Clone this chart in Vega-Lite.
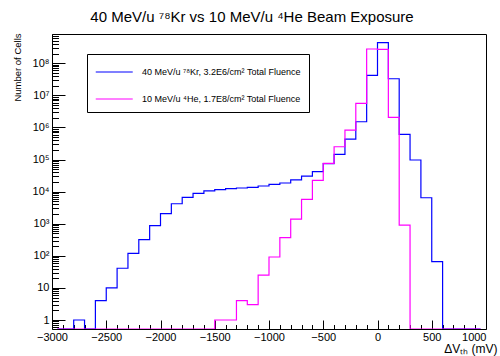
{
  "$schema": "https://vega.github.io/schema/vega-lite/v6.json",
  "width": 434,
  "height": 295,
  "autosize": "none",
  "padding": {"left": 52, "top": 34, "right": 14, "bottom": 27},
  "background": "white",
  "config": {
    "view": {"stroke": "black", "strokeWidth": 1},
    "font": "Liberation Sans",
    "axis": {"labelFont": "Liberation Sans", "titleFont": "Liberation Sans", "labelColor": "black", "titleColor": "black", "tickColor": "black", "grid": false, "domain": false, "titleFontWeight": "normal"}
  },
  "title": {
    "text": "40 MeV/u ⁷⁸Kr vs 10 MeV/u ⁴He Beam Exposure",
    "font": "Liberation Sans",
    "fontSize": 15,
    "fontWeight": "normal",
    "color": "black",
    "anchor": "middle",
    "baseline": "alphabetic",
    "dx": -17,
    "dy": 11,
    "offset": 7
  },
  "data": {
    "values": [
      {"mV": -2950, "cells": 0, "beam": "Kr"},
      {"mV": -2850, "cells": 0, "beam": "Kr"},
      {"mV": -2750, "cells": 1, "beam": "Kr"},
      {"mV": -2650, "cells": 0, "beam": "Kr"},
      {"mV": -2550, "cells": 4, "beam": "Kr"},
      {"mV": -2450, "cells": 10, "beam": "Kr"},
      {"mV": -2350, "cells": 41, "beam": "Kr"},
      {"mV": -2250, "cells": 120, "beam": "Kr"},
      {"mV": -2150, "cells": 318, "beam": "Kr"},
      {"mV": -2050, "cells": 869, "beam": "Kr"},
      {"mV": -1950, "cells": 2080, "beam": "Kr"},
      {"mV": -1850, "cells": 4210, "beam": "Kr"},
      {"mV": -1750, "cells": 6660, "beam": "Kr"},
      {"mV": -1650, "cells": 8880, "beam": "Kr"},
      {"mV": -1550, "cells": 10600, "beam": "Kr"},
      {"mV": -1450, "cells": 11500, "beam": "Kr"},
      {"mV": -1350, "cells": 12400, "beam": "Kr"},
      {"mV": -1250, "cells": 13000, "beam": "Kr"},
      {"mV": -1150, "cells": 13700, "beam": "Kr"},
      {"mV": -1050, "cells": 15000, "beam": "Kr"},
      {"mV": -950, "cells": 16900, "beam": "Kr"},
      {"mV": -850, "cells": 18600, "beam": "Kr"},
      {"mV": -750, "cells": 23400, "beam": "Kr"},
      {"mV": -650, "cells": 30300, "beam": "Kr"},
      {"mV": -550, "cells": 42400, "beam": "Kr"},
      {"mV": -450, "cells": 75300, "beam": "Kr"},
      {"mV": -350, "cells": 146000, "beam": "Kr"},
      {"mV": -250, "cells": 437000, "beam": "Kr"},
      {"mV": -150, "cells": 1510000, "beam": "Kr"},
      {"mV": -50, "cells": 42000000, "beam": "Kr"},
      {"mV": 50, "cells": 444000000, "beam": "Kr"},
      {"mV": 150, "cells": 33000000, "beam": "Kr"},
      {"mV": 250, "cells": 610000, "beam": "Kr"},
      {"mV": 350, "cells": 96900, "beam": "Kr"},
      {"mV": 450, "cells": 6470, "beam": "Kr"},
      {"mV": 550, "cells": 66, "beam": "Kr"},
      {"mV": 650, "cells": 0, "beam": "Kr"},
      {"mV": 750, "cells": 0, "beam": "Kr"},
      {"mV": 850, "cells": 0, "beam": "Kr"},
      {"mV": 950, "cells": 0, "beam": "Kr"},
      {"mV": -2950, "cells": 0, "beam": "He"},
      {"mV": -2850, "cells": 0, "beam": "He"},
      {"mV": -2750, "cells": 0, "beam": "He"},
      {"mV": -2650, "cells": 0, "beam": "He"},
      {"mV": -2550, "cells": 0, "beam": "He"},
      {"mV": -2450, "cells": 0, "beam": "He"},
      {"mV": -2350, "cells": 0, "beam": "He"},
      {"mV": -2250, "cells": 0, "beam": "He"},
      {"mV": -2150, "cells": 0, "beam": "He"},
      {"mV": -2050, "cells": 0, "beam": "He"},
      {"mV": -1950, "cells": 0, "beam": "He"},
      {"mV": -1850, "cells": 0, "beam": "He"},
      {"mV": -1750, "cells": 0, "beam": "He"},
      {"mV": -1650, "cells": 0, "beam": "He"},
      {"mV": -1550, "cells": 0, "beam": "He"},
      {"mV": -1450, "cells": 1, "beam": "He"},
      {"mV": -1350, "cells": 1, "beam": "He"},
      {"mV": -1250, "cells": 4, "beam": "He"},
      {"mV": -1150, "cells": 3, "beam": "He"},
      {"mV": -1050, "cells": 25, "beam": "He"},
      {"mV": -950, "cells": 92, "beam": "He"},
      {"mV": -850, "cells": 372, "beam": "He"},
      {"mV": -750, "cells": 1400, "beam": "He"},
      {"mV": -650, "cells": 5770, "beam": "He"},
      {"mV": -550, "cells": 22600, "beam": "He"},
      {"mV": -450, "cells": 76400, "beam": "He"},
      {"mV": -350, "cells": 251000, "beam": "He"},
      {"mV": -250, "cells": 833000, "beam": "He"},
      {"mV": -150, "cells": 5660000, "beam": "He"},
      {"mV": -50, "cells": 279000000, "beam": "He"},
      {"mV": 50, "cells": 273000000, "beam": "He"},
      {"mV": 150, "cells": 2070000, "beam": "He"},
      {"mV": 250, "cells": 913, "beam": "He"},
      {"mV": 350, "cells": 0, "beam": "He"},
      {"mV": 450, "cells": 0, "beam": "He"},
      {"mV": 550, "cells": 0, "beam": "He"},
      {"mV": 650, "cells": 0, "beam": "He"},
      {"mV": 750, "cells": 0, "beam": "He"},
      {"mV": 850, "cells": 0, "beam": "He"},
      {"mV": 950, "cells": 0, "beam": "He"}
    ]
  },
  "layer": [
    {
      "mark": {"type": "line", "interpolate": "step", "strokeWidth": 1.2, "clip": true, "invalid": "show"},
      "encoding": {
        "x": {
          "field": "mV", "type": "quantitative",
          "scale": {"domain": [-3000, 1000], "nice": false, "zero": false},
          "axis": {
            "orient": "bottom",
            "values": [-3000, -2500, -2000, -1500, -1000, -500, 0, 500, 1000],
            "format": "d",
            "tickSize": -9,
            "tickWidth": 1,
            "labelFontSize": 11,
            "labelPadding": 11,
            "labelFlush": false,
            "labelOverlap": false,
            "labelAlign": {"expr": "datum.value == 1000 ? 'right' : 'center'"},
            "title": "ΔVₜₕ (mV)",
            "titleFontSize": 12,
            "titleAnchor": "end",
            "titleAlign": "right",
            "titleBaseline": "alphabetic",
            "titleX": 445,
            "titleY": 23
          }
        },
        "y": {
          "field": "cells", "type": "quantitative",
          "scale": {"type": "log", "domain": [0.525, 820000000], "nice": false, "clamp": true},
          "axis": {
            "orient": "left",
            "values": [1, 10, 100, 1000, 10000, 100000, 1000000, 10000000, 100000000],
            "labelExpr": "['1','10','10²','10³','10⁴','10⁵','10⁶','10⁷','10⁸'][round(log(datum.value)/LN10)]",
            "tickSize": -13,
            "tickWidth": 1,
            "labelFontSize": 11,
            "labelPadding": 16,
            "labelOverlap": false,
            "title": "Number of Cells",
            "titleFontSize": 9.5,
            "titleAngle": 270,
            "titleAlign": "right",
            "titleBaseline": "middle",
            "titleX": -35,
            "titleY": -1
          }
        },
        "color": {
          "field": "beam", "type": "nominal",
          "scale": {"domain": ["Kr", "He"], "range": ["#0000ff", "#ff00ff"]},
          "legend": {
            "orient": "none",
            "legendX": 35,
            "legendY": 20,
            "title": null,
            "direction": "vertical",
            "strokeColor": "black",
            "fillColor": "white",
            "padding": 8,
            "symbolType": "M-1,0H3",
            "symbolSize": 342,
            "symbolStrokeWidth": 1.2,
            "labelFontSize": 9,
            "labelFont": "Liberation Sans",
            "labelColor": "black",
            "labelOffset": 27,
            "labelLimit": 0,
            "rowPadding": 12,
            "labelExpr": "datum.value == 'Kr' ? '40 MeV/u ⁷⁸Kr, 3.2E6/cm² Total Fluence' : '10 MeV/u ⁴He, 1.7E8/cm² Total Fluence'"
          }
        }
      }
    },
    {
      "mark": {"type": "line", "opacity": 0, "invalid": "show"},
      "encoding": {
        "x": {
          "field": "mV", "type": "quantitative",
          "axis": {
            "orient": "bottom",
            "values": [-2900, -2800, -2700, -2600, -2400, -2300, -2200, -2100, -1900, -1800, -1700, -1600, -1400, -1300, -1200, -1100, -900, -800, -700, -600, -400, -300, -200, -100, 100, 200, 300, 400, 600, 700, 800, 900],
            "tickSize": -4.5,
            "tickWidth": 1,
            "labels": false,
            "title": null
          }
        },
        "y": {
          "field": "cells", "type": "quantitative",
          "axis": {
            "orient": "left",
            "values": [0.6, 0.7, 0.8, 0.9, 2, 3, 4, 5, 6, 7, 8, 9, 20, 30, 40, 50, 60, 70, 80, 90, 200, 300, 400, 500, 600, 700, 800, 900, 2000, 3000, 4000, 5000, 6000, 7000, 8000, 9000, 20000, 30000, 40000, 50000, 60000, 70000, 80000, 90000, 200000, 300000, 400000, 500000, 600000, 700000, 800000, 900000, 2000000, 3000000, 4000000, 5000000, 6000000, 7000000, 8000000, 9000000, 20000000, 30000000, 40000000, 50000000, 60000000, 70000000, 80000000, 90000000, 200000000, 300000000, 400000000, 500000000, 600000000, 700000000, 800000000],
            "tickSize": -6.5,
            "tickWidth": 1,
            "labels": false,
            "title": null
          }
        }
      }
    }
  ],
  "resolve": {"axis": {"x": "independent", "y": "independent"}}
}
